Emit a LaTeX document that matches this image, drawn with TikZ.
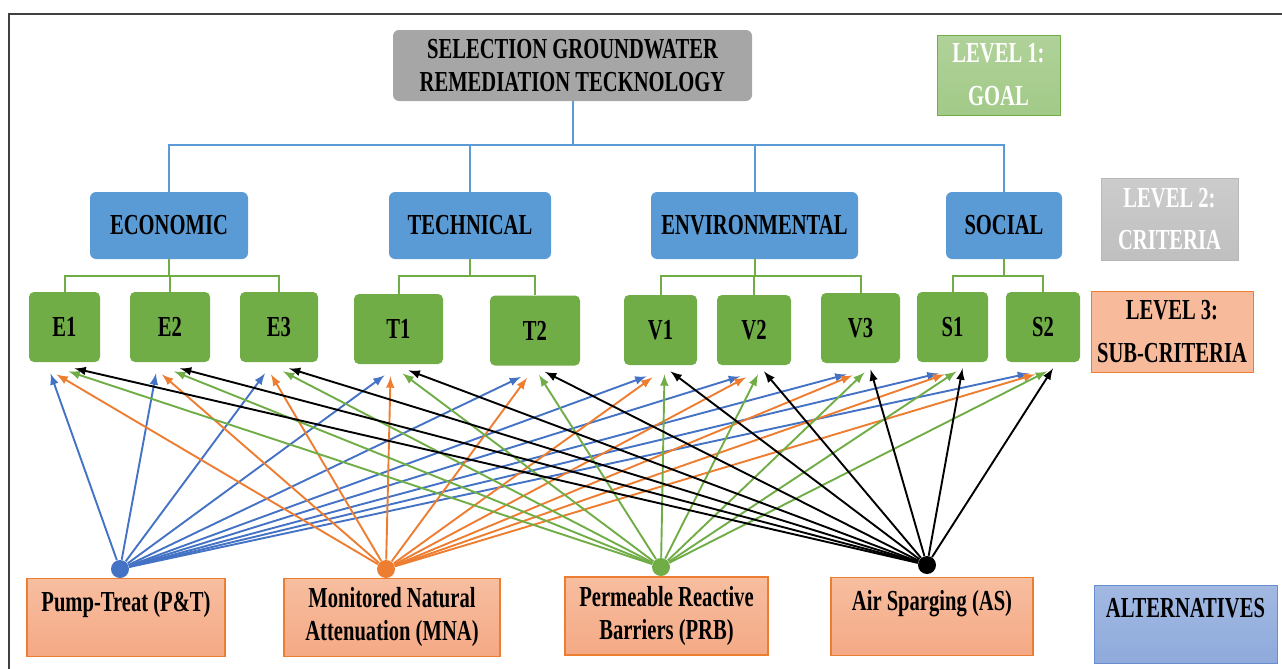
\documentclass[tikz,border=0pt]{standalone}
\usepackage{fontspec}
\setmainfont[FakeStretch=0.71]{Liberation Serif}
\usepackage{tikz}
\usetikzlibrary{arrows}
\usepackage{xcolor}
\definecolor{goalgray}{HTML}{A6A6A6}
\definecolor{critblue}{HTML}{5B9BD5}
\definecolor{subgreen}{HTML}{70AD47}
\definecolor{ptblue}{HTML}{4472C4}
\definecolor{mnaorange}{HTML}{ED7D31}
\definecolor{framegray}{HTML}{404040}
\definecolor{salmontop}{HTML}{F7BEA0}
\definecolor{salmonbot}{HTML}{F4A985}

\begin{document}
\begin{tikzpicture}[x=0.5pt,y=-0.5pt]
    \tikzset{txt/.style = {font=\fontsize{14.5}{16.5}\selectfont\bfseries, align=center, inner sep=2pt}}
    \tikzset{goalbox/.style = {txt, rounded corners=3pt, fill=goalgray, minimum width=179.5pt, minimum height=35.5pt}}
    \tikzset{crit/.style = {txt, rounded corners=3pt, fill=critblue, minimum height=33.5pt}}
    \tikzset{sub/.style = {txt, rounded corners=2.5pt, fill=subgreen, minimum height=35pt}}
    \tikzset{alt/.style = {txt, draw=mnaorange, line width=0.6pt, top color=salmontop, bottom color=salmonbot, minimum height=39pt}}
    \tikzset{lvl/.style = {txt, minimum height=40.5pt}}
    \tikzset{dot/.style = {shape=circle, inner sep=0pt, minimum size=9pt}}
    \tikzset{blueline/.style = {draw=critblue, line width=1pt}}
    \tikzset{greenline/.style = {draw=subgreen, line width=1pt}}
    \tikzset{arrow/.style = {-latex, line width=0.95pt}}

    \useasboundingbox (0,0) rectangle (1282,669);
    \draw[framegray, line width=1pt] (9,669) -- (9,14) -- (1282,14);

    % goal
    \node[goalbox] (goal) at (572.5,65.5) {SELECTION GROUNDWATER\\REMEDIATION TECKNOLOGY};

    % criteria
    \node[crit, minimum width=79pt] (econ) at (169,225.5) {ECONOMIC};
    \node[crit, minimum width=81pt] (tech) at (470,225.5) {TECHNICAL};
    \node[crit, minimum width=103.5pt] (env) at (754.5,225.5) {ENVIRONMENTAL};
    \node[crit, minimum width=58pt] (soc) at (1004,225.5) {SOCIAL};

    % sub-criteria
    \node[sub, minimum width=35.5pt] (e1) at (64.5,327) {E1};
    \node[sub, minimum width=40pt] (e2) at (170,327) {E2};
    \node[sub, minimum width=39pt] (e3) at (279,327) {E3};
    \node[sub, minimum width=44.5pt] (t1) at (398.5,329) {T1};
    \node[sub, minimum width=45pt] (t2) at (535,330.5) {T2};
    \node[sub, minimum width=36.5pt] (v1) at (660.5,330) {V1};
    \node[sub, minimum width=37pt] (v2) at (754,330) {V2};
    \node[sub, minimum width=39.5pt] (v3) at (860.5,328) {V3};
    \node[sub, minimum width=35.5pt] (s1) at (952.5,327) {S1};
    \node[sub, minimum width=37pt] (s2) at (1043,327) {S2};

    % alternatives
    \node[alt, minimum width=99pt] (pt) at (126,617.5) {Pump-Treat (P\&T)\\\mbox{}};
    \node[alt, minimum width=108pt] (mna) at (392,617.5) {Monitored Natural\\Attenuation (MNA)};
    \node[alt, minimum width=101.5pt] (prb) at (666.5,616) {Permeable Reactive\\Barriers (PRB)};
    \node[alt, minimum width=101pt] (as) at (932,616.5) {Air Sparging (AS)\\\mbox{}};

    % levels
    \node[lvl, text=white, draw=subgreen, line width=0.5pt, top color=subgreen!55!white, bottom color=subgreen!65!white, minimum width=61.5pt, minimum height=40pt] (lvl1) at (998.5,75) {LEVEL 1:\\[5pt]GOAL};
    \node[lvl, text=white, draw=goalgray!80, line width=0.5pt, top color=gray!40, bottom color=gray!50, minimum width=68.5pt, minimum height=41pt] (lvl2) at (1169.5,219) {LEVEL 2:\\[4.5pt]CRITERIA};
    \node[lvl, draw=mnaorange, line width=0.5pt, fill=salmontop!85!salmonbot, minimum width=81pt] (lvl3) at (1172,331.5) {LEVEL 3:\\[5pt]SUB-CRITERIA};
    \node[lvl, draw=ptblue!80, line width=0.5pt, top color=ptblue!50!white, bottom color=ptblue!60!white, minimum width=91.5pt, minimum height=39pt] (lvlalt) at (1185.5,624) {ALTERNATIVES\\\mbox{}};

    % tree lines
    \foreach \c in {econ,tech,env,soc}
        \draw[blueline] (goal.south) -- ++(0,44) -| (\c.north);
    \foreach \p/\s in {econ/e1,econ/e2,econ/e3,tech/t1,tech/t2,env/v1,env/v2,env/v3,soc/s1,soc/s2}
        \draw[greenline] (\p.south) -- ++(0,17) -| (\s.north);

    % dots
    \node[dot, fill=ptblue] (ptdot) at (120,569) {};
    \node[dot, fill=mnaorange] (mnadot) at (386,569) {};
    \node[dot, fill=subgreen] (prbdot) at (661,567) {};
    \node[dot, fill=black] (asdot) at (927,565) {};

    % arrows
    \foreach \a/\col/\dx/\dy in {ptdot/ptblue/-7/-5.5, mnadot/mnaorange/-4/-6, prbdot/subgreen/2/-4.5, asdot/black/5/-3}
        \foreach \s in {e1,e2,e3,t1,t2,v1,v2,v3,s1,s2}
            \draw[arrow, \col] (\a) -- ([xshift=\dx pt, yshift=\dy pt]\s.south);
\end{tikzpicture}
\end{document}
